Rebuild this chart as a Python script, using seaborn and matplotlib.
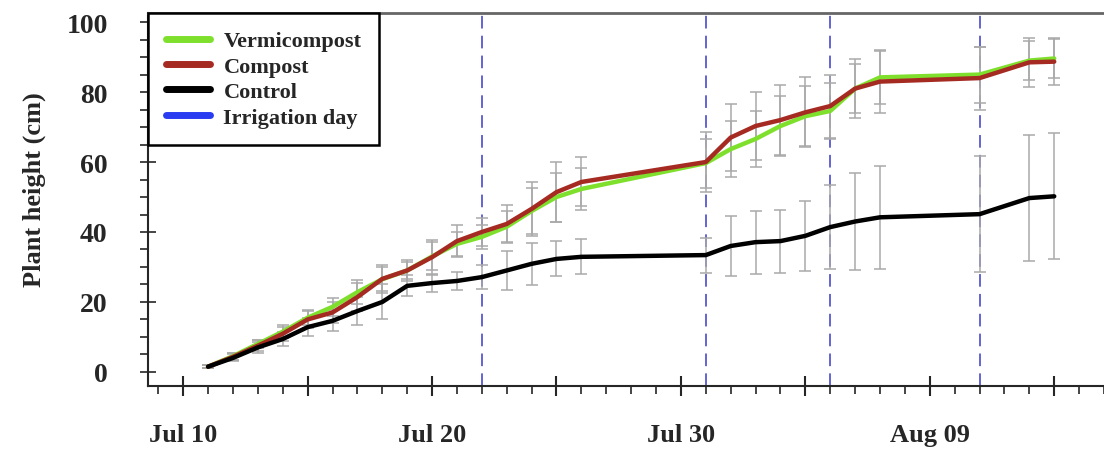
import numpy as np
import pandas as pd
import matplotlib
matplotlib.use("Agg")
import matplotlib.pyplot as plt
import matplotlib.dates as mdates
from matplotlib.lines import Line2D
import seaborn as sns

# measurement dates
dates = ["2021-07-11", "2021-07-12", "2021-07-13", "2021-07-14", "2021-07-15",
         "2021-07-16", "2021-07-17", "2021-07-18", "2021-07-19", "2021-07-20",
         "2021-07-21", "2021-07-22", "2021-07-23", "2021-07-24", "2021-07-25",
         "2021-07-26", "2021-07-31", "2021-08-01", "2021-08-02", "2021-08-03",
         "2021-08-04", "2021-08-05", "2021-08-06", "2021-08-07", "2021-08-11",
         "2021-08-13", "2021-08-14"]

vermicompost = [1.5, 4.5, 8.0, 11.5, 15.5, 18.6, 22.8, 26.5, 29.0, 33.0,
                36.6, 38.6, 41.5, 46.0, 50.0, 52.3, 59.7, 63.7, 66.6, 70.3,
                73.1, 74.6, 81.0, 84.2, 85.0, 89.0, 89.6]
compost = [1.5, 4.3, 7.5, 10.9, 15.0, 17.0, 21.4, 26.6, 29.0, 32.8,
           37.4, 40.0, 42.3, 46.6, 51.4, 54.3, 60.0, 67.0, 70.3, 72.0,
           74.2, 76.0, 81.0, 83.0, 84.0, 88.5, 88.7]
control = [1.5, 4.0, 7.0, 9.4, 12.8, 14.6, 17.4, 20.0, 24.6, 25.4,
           26.0, 27.1, 29.0, 30.9, 32.3, 32.9, 33.4, 36.0, 37.1, 37.4,
           38.9, 41.4, 43.0, 44.2, 45.1, 49.7, 50.2]

vermi_err = [0.5, 1.0, 1.2, 1.8, 2.2, 2.6, 3.5, 3.5, 2.5, 4.0,
             3.5, 3.5, 4.5, 6.5, 7.0, 6.0, 7.0, 8.0, 8.0, 8.5,
             8.5, 8.0, 7.0, 7.5, 8.0, 5.5, 5.5]
compost_err = [0.5, 1.0, 1.5, 2.0, 2.5, 3.0, 4.0, 4.0, 3.0, 5.0,
               4.5, 4.0, 5.5, 7.8, 8.5, 7.0, 8.5, 9.5, 9.7, 10.0,
               10.0, 9.0, 8.5, 9.0, 9.0, 7.0, 6.8]
control_err = [0.5, 1.0, 1.5, 2.0, 2.5, 3.0, 4.0, 5.0, 3.0, 2.5,
               2.5, 3.5, 5.7, 6.0, 5.0, 5.0, 5.0, 8.5, 9.0, 9.0,
               10.0, 12.0, 14.0, 14.8, 16.5, 18.0, 18.0]

irrigation_days = ["2021-07-22", "2021-07-31", "2021-08-05", "2021-08-11"]

treatments = ["Vermicompost", "Compost", "Control"]
colors = {"Vermicompost": "#7ee02c", "Compost": "#a52a22", "Control": "#000000"}
irrigation_color = "#2a3cf0"

dt = pd.to_datetime(dates)
df = pd.concat([
    pd.DataFrame({"date": dt, "height": vermicompost, "err": vermi_err, "treatment": "Vermicompost"}),
    pd.DataFrame({"date": dt, "height": compost, "err": compost_err, "treatment": "Compost"}),
    pd.DataFrame({"date": dt, "height": control, "err": control_err, "treatment": "Control"}),
], ignore_index=True)

sns.set_style("ticks")
plt.rcParams["font.family"] = ["Liberation Serif", "DejaVu Serif"]
plt.rcParams["font.weight"] = "bold"

fig = plt.figure(figsize=(11.04, 4.52), dpi=100)
ax = fig.add_axes([0.134, 0.144, 0.866, 0.825])

# error bars first (gray), then the lines on top
for t in treatments:
    sub = df[df["treatment"] == t]
    ax.errorbar(sub["date"], sub["height"], yerr=sub["err"], fmt="none",
                ecolor="#a9a9a9", elinewidth=1.1, capsize=4, capthick=1.1, zorder=2)

for d in irrigation_days:
    ax.axvline(pd.Timestamp(d), color="#5858d0", lw=1.3, ls=(0, (7, 4)), zorder=1)

sns.lineplot(data=df, x="date", y="height", hue="treatment", hue_order=treatments,
             palette=colors, linewidth=3.2, ax=ax, legend=False, zorder=3,
             solid_capstyle="round")

ax.set_ylim(-4, 102.6)
ax.set_xlim(pd.Timestamp("2021-07-08 14:00"), pd.Timestamp("2021-08-16 00:00"))

ax.yaxis.set_major_locator(plt.MultipleLocator(20))
ax.yaxis.set_minor_locator(plt.MultipleLocator(5))

majors = pd.date_range("2021-07-10", "2021-08-14", freq="5D")
ax.set_xticks(majors)
ax.set_xticklabels([d.strftime("%b %d") if i % 2 == 0 else "" for i, d in enumerate(majors)])
ax.xaxis.set_minor_locator(mdates.DayLocator())

ax.tick_params(axis="x", which="major", direction="inout", length=14, width=1.5,
               pad=20, labelsize=19)
ax.tick_params(axis="x", which="minor", direction="out", length=6, width=1.2)
ax.tick_params(axis="y", which="major", direction="inout", length=12, width=1.2,
               pad=23, labelsize=20)
ax.tick_params(axis="y", which="minor", direction="out", length=6, width=1.2)
for lab in ax.get_xticklabels() + ax.get_yticklabels():
    lab.set_fontweight("bold")

ax.set_xlabel("")
ax.set_ylabel("Plant height (cm)", fontsize=19, fontweight="bold")
ax.yaxis.set_label_coords(-0.107, 0.53)

ax.spines["right"].set_visible(False)
ax.spines["top"].set_color("#666666")
ax.spines["top"].set_linewidth(2)
ax.spines["left"].set_linewidth(1.5)
ax.spines["bottom"].set_linewidth(1.5)

handles = [Line2D([], [], color=colors[t], lw=5, solid_capstyle="round") for t in treatments]
handles.append(Line2D([], [], color=irrigation_color, lw=5, solid_capstyle="round"))
leg = ax.legend(handles, treatments + ["Irrigation day"], loc="upper left",
                bbox_to_anchor=(0, 1), borderaxespad=0, fancybox=False,
                edgecolor="black", framealpha=1, handlelength=2.0,
                handletextpad=0.6, labelspacing=0.22, borderpad=0.8,
                prop={"size": 16, "weight": "bold"})
leg.get_frame().set_linewidth(1.8)

fig.savefig("out.png", dpi=100)
